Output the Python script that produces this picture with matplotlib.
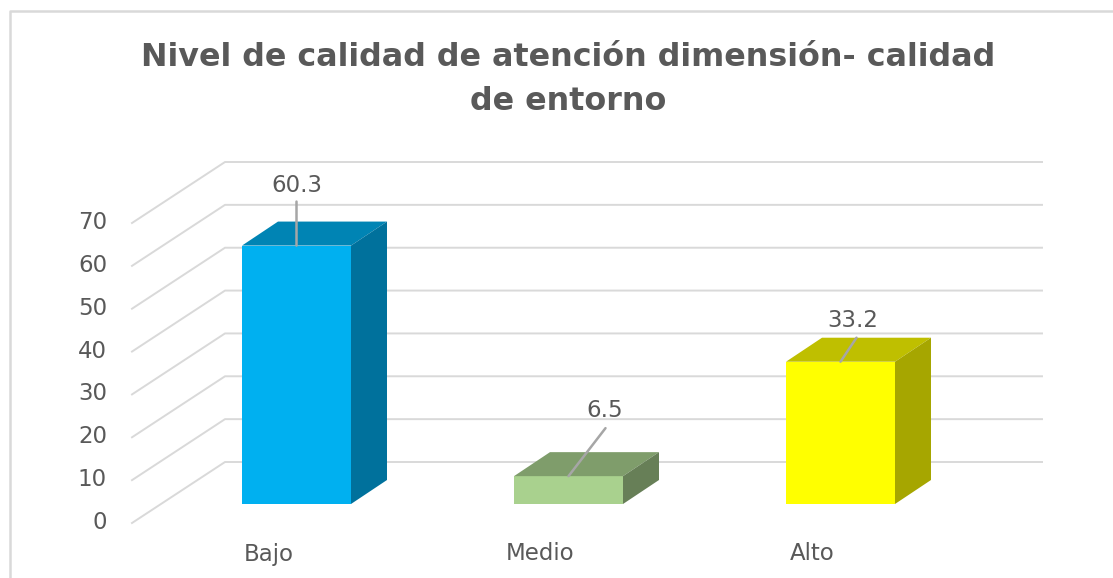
"""3D style bar chart: nivel de calidad de atencion, dimension calidad de entorno."""

import matplotlib
matplotlib.use("Agg")
import matplotlib.pyplot as plt
from matplotlib.patches import Polygon

categories = ["Bajo", "Medio", "Alto"]
values = [60.3, 6.5, 33.2]
value_labels = ["60.3", "6.5", "33.2"]
y_ticks = [0, 10, 20, 30, 40, 50, 60, 70]
title = "Nivel de calidad de atención dimensión- calidad\nde entorno"

front_colors = ["#00B0F0", "#A9D18E", "#FFFF00"]
top_colors = ["#0084B4", "#7F9D6B", "#BFBF00"]
side_colors = ["#00719C", "#677F57", "#A6A600"]

# pixels per unit on the bars' front plane
PX_X = 272.0
PX_Y = 300 / 70
W, H = 1113, 578
X0_PX, Y0_PX = 296.5, 504

BAR_W = 109 / PX_X
BAR_DX, BAR_DY = 36 / PX_X, 24 / PX_Y

# floor/wall corners, relative to the bars' front plane
WALL_LEFT = (225 - X0_PX) / PX_X
WALL_RIGHT = (1042 - X0_PX) / PX_X
WALL_DY = 42 / PX_Y
FRONT_LEFT = (132 - X0_PX) / PX_X
FRONT_DY = -19 / PX_Y

# leader end offsets, in pixels from the bar's top
leader_px = [(0, 44), (37, 48), (16, 24)]
label_px = [(0, 60), (36, 66), (12, 41)]

fig = plt.figure(figsize=(W / 100, H / 100), dpi=100)
ax = fig.add_axes([0, 0, 1, 1])
ax.set_xlim(-X0_PX / PX_X, (W - X0_PX) / PX_X)
ax.set_ylim(-(H - Y0_PX) / PX_Y, Y0_PX / PX_Y)
ax.axis("off")

# chart frame, open on the right
ax.plot([9.5 / W, 9.5 / W, 1], [0, 1 - 10.5 / H, 1 - 10.5 / H],
        transform=ax.transAxes, color="#D9D9D9", lw=1.8, clip_on=False)

# gridlines, wall + floor diagonal
for t in y_ticks:
    ax.plot([FRONT_LEFT, WALL_LEFT, WALL_RIGHT], [t + FRONT_DY, t + WALL_DY, t + WALL_DY],
            color="#D9D9D9", lw=1.4, zorder=1)
    ax.annotate(str(t), (FRONT_LEFT, t + FRONT_DY), xytext=(-25, 0.5), textcoords="offset pixels",
                ha="right", va="center", fontsize=16.5, color="#595959")

for i, v in enumerate(values):
    l, r = i - BAR_W / 2, i + BAR_W / 2
    ax.add_patch(Polygon([(l, 0), (r, 0), (r, v), (l, v)], fc=front_colors[i], ec="none", zorder=3))
    ax.add_patch(Polygon([(l, v), (r, v), (r + BAR_DX, v + BAR_DY), (l + BAR_DX, v + BAR_DY)],
                         fc=top_colors[i], ec="none", zorder=3))
    ax.add_patch(Polygon([(r, 0), (r + BAR_DX, BAR_DY), (r + BAR_DX, v + BAR_DY), (r, v)],
                         fc=side_colors[i], ec="none", zorder=3))

    ax.annotate("", (i, v), xytext=leader_px[i], textcoords="offset pixels", zorder=4,
                arrowprops=dict(arrowstyle="-", color="#A6A6A6", lw=1.8, shrinkA=0, shrinkB=0))
    ax.annotate(value_labels[i], (i, v), xytext=label_px[i], textcoords="offset pixels",
                ha="center", va="center", fontsize=16.5, color="#595959", zorder=5)

    ax.annotate(categories[i], (i, 0), xytext=(-28, -50), textcoords="offset pixels",
                ha="center", va="center", fontsize=16.5, color="#595959")

fig.text(568.5 / W, 1 - 79.5 / H, title, ha="center", va="center", fontsize=22.9, fontweight="bold",
         color="#595959", linespacing=1.55)

fig.savefig("out.png", dpi=100)
